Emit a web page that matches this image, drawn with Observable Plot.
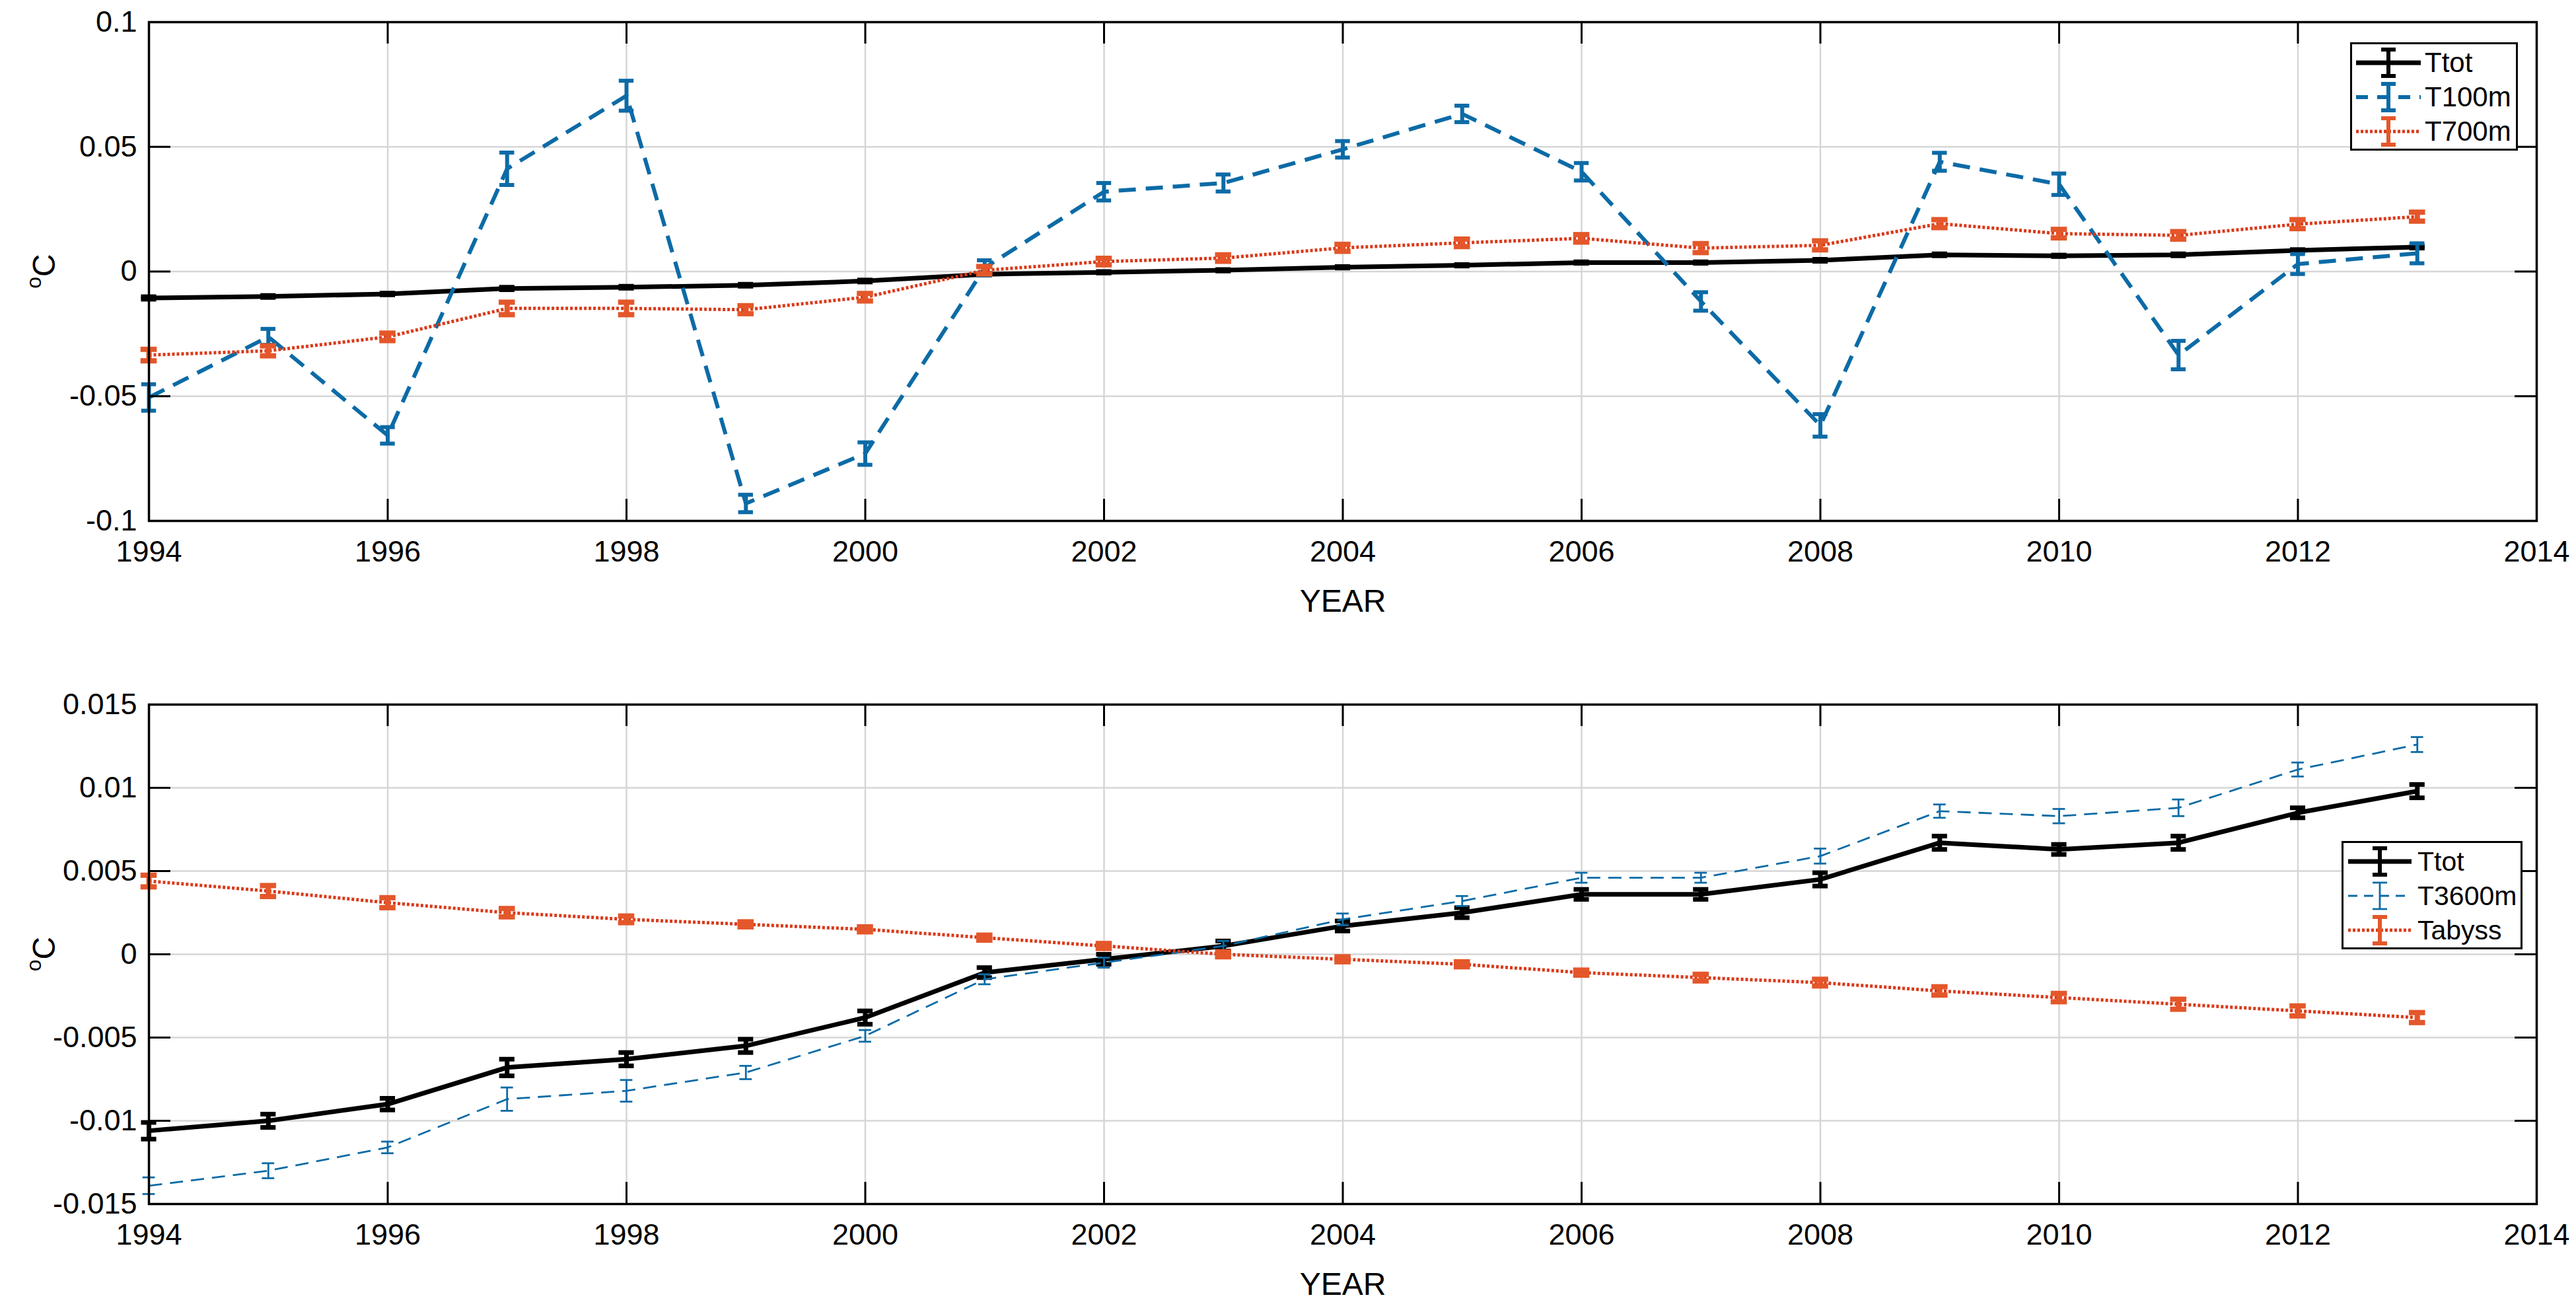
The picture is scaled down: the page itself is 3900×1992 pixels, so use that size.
<!DOCTYPE html>
<html>
<head>
<meta charset="utf-8">
<script src="https://cdn.jsdelivr.net/npm/d3@7"></script>
<script src="https://cdn.jsdelivr.net/npm/@observablehq/plot@0.6"></script>
<style>
  html, body { margin: 0; padding: 0; background: #fff; }
  #wrap { position: relative; width: 3900px; height: 1992px; overflow: hidden;
          font-family: "Liberation Sans", Arial, Helvetica, sans-serif; background: #fff; }
  .panel { position: absolute; left: 0; }
  .legend { position: absolute; background: #fff; border: 3px solid #000; box-sizing: border-box; }
  .legend .row { position: absolute; left: 0; right: 0; height: 52px; }
  .legend .row svg { position: absolute; top: 0; }
  .legend .row span { position: absolute; top: 0; line-height: 52px; color: #000; white-space: nowrap; }
</style>
</head>
<body>
<div id="wrap"></div>
<script>
// ---------------- data ----------------
const years = [1994, 1995, 1996, 1997, 1998, 1999, 2000, 2001, 2002, 2003,
               2004, 2005, 2006, 2007, 2008, 2009, 2010, 2011, 2012, 2013];

const ttot    = [-0.0106, -0.0100, -0.0090, -0.0068, -0.0063, -0.0055, -0.0038, -0.0011, -0.0003, 0.0005,
                  0.0017, 0.0025, 0.0036, 0.0036, 0.0045, 0.0067, 0.0063, 0.0067, 0.0085, 0.0098];
const ttotErr = [0.0005, 0.0004, 0.00035, 0.0005, 0.0004, 0.0004, 0.0004, 0.0003, 0.0003, 0.0003,
                 0.0003, 0.0003, 0.0003, 0.0003, 0.0004, 0.0004, 0.0003, 0.0004, 0.0003, 0.0004];

const t100m    = [-0.0505, -0.0262, -0.0657, 0.0412, 0.0705, -0.0930, -0.0730, 0.0015, 0.0320, 0.0355,
                   0.0490, 0.0632, 0.0400, -0.0120, -0.0617, 0.0440, 0.0350, -0.0335, 0.0030, 0.0073];
const t100mErr = [0.0053, 0.0032, 0.0033, 0.0065, 0.0060, 0.0035, 0.0045, 0.0030, 0.0035, 0.0034,
                  0.0033, 0.0033, 0.0035, 0.0037, 0.0045, 0.0036, 0.0043, 0.0057, 0.0040, 0.0040];

const t700m    = [-0.0335, -0.0318, -0.0262, -0.0148, -0.0148, -0.0153, -0.0103, 0.0005, 0.0040, 0.0054,
                   0.0095, 0.0115, 0.0133, 0.0094, 0.0105, 0.0192, 0.0152, 0.0145, 0.0190, 0.0220];
const t700mErr = [0.0023, 0.0020, 0.0015, 0.0025, 0.0025, 0.0016, 0.0015, 0.0015, 0.0013, 0.0013,
                  0.0014, 0.0015, 0.0015, 0.0018, 0.0018, 0.0016, 0.0017, 0.0015, 0.0018, 0.0018];

const t3600m    = [-0.0139, -0.0130, -0.0116, -0.0087, -0.0082, -0.0071, -0.0049, -0.0015, -0.0005, 0.0005,
                    0.0021, 0.0032, 0.0046, 0.0046, 0.0059, 0.0086, 0.0083, 0.0088, 0.0111, 0.0126];
const t3600mErr = [0.0005, 0.00045, 0.00035, 0.0007, 0.00065, 0.0004, 0.00035, 0.0003, 0.0003, 0.0003,
                   0.00035, 0.0003, 0.0003, 0.0003, 0.00045, 0.0004, 0.00043, 0.0005, 0.00042, 0.00045];

const tabyss    = [0.0044, 0.0038, 0.0031, 0.0025, 0.0021, 0.0018, 0.0015, 0.0010, 0.0005, 0.0000,
                   -0.0003, -0.0006, -0.0011, -0.0014, -0.0017, -0.0022, -0.0026, -0.0030, -0.0034, -0.0038];
const tabyssErr = [0.00035, 0.00033, 0.0003, 0.00025, 0.0002, 0.00015, 0.00015, 0.00015, 0.00015, 0.00015,
                   0.00015, 0.00015, 0.00015, 0.0002, 0.0002, 0.00025, 0.00025, 0.0003, 0.0003, 0.0003];

const xTicks = [1994, 1996, 1998, 2000, 2002, 2004, 2006, 2008, 2010, 2012, 2014];
const yTicksTop = [-0.1, -0.05, 0, 0.05, 0.1];
const yTicksBottom = [-0.015, -0.01, -0.005, 0, 0.005, 0.01, 0.015];
const xLabel = "YEAR";
const topNames = ["Ttot", "T100m", "T700m"];
const bottomNames = ["Ttot", "T3600m", "Tabyss"];

// ---------------- styles ----------------
const W = 3900, ML = 225, MR = 60;
const BLACK = "#000000", BLUE = "#0c6ba6", RED = "#d93a1a", ORANGE = "#e4572a";
const FONT = "'Liberation Sans', Arial, Helvetica, sans-serif";
const TICKLEN = 33;

const styleTot  = {color: BLACK, bar: BLACK, width: 7, barWidth: 7, dash: null, ldash: null, cap: 0.064};
const style100  = {color: BLUE, bar: BLUE, width: 6, barWidth: 6, dash: "26,15", ldash: "18,14", cap: 0.062};
const style700  = {color: RED, bar: ORANGE, width: 5, barWidth: 8, dash: "4,3", ldash: "4,3", cap: 0.068};
const style3600 = {color: BLUE, bar: BLUE, width: 2.8, barWidth: 2.8, dash: "20,12", ldash: "14,10", cap: 0.052};
const styleAbys = {color: RED, bar: ORANGE, width: 5, barWidth: 8, dash: "4,3", ldash: "4,3", cap: 0.068};

function rowsOf(vals, errs) {
  return years.map((year, i) => ({year, value: vals[i], lo: vals[i] - errs[i], hi: vals[i] + errs[i]}));
}

function seriesMarks(vals, errs, s) {
  const rows = rowsOf(vals, errs);
  const common = {stroke: s.bar, strokeWidth: s.barWidth, strokeLinecap: "butt"};
  return [
    Plot.line(rows, {x: "year", y: "value", stroke: s.color, strokeWidth: s.width,
                     strokeDasharray: s.dash, strokeLinecap: "butt", strokeLinejoin: "round"}),
    Plot.ruleX(rows, {x: "year", y1: "lo", y2: "hi", ...common}),
    Plot.ruleY(rows, {y: "lo", x1: d => d.year - s.cap, x2: d => d.year + s.cap, ...common}),
    Plot.ruleY(rows, {y: "hi", x1: d => d.year - s.cap, x2: d => d.year + s.cap, ...common})
  ];
}

function makePanel(cfg) {
  const innerH = cfg.height - cfg.marginTop - cfg.marginBottom;
  const innerW = W - ML - MR;
  const tickStyle = {stroke: BLACK, strokeWidth: 3};
  const marks = [
    Plot.gridX(xTicks, {stroke: "#d6d6d6", strokeOpacity: 1, strokeWidth: 2.5}),
    Plot.gridY(cfg.yTicks, {stroke: "#d6d6d6", strokeOpacity: 1, strokeWidth: 2.5}),
    ...cfg.series.flatMap(([v, e, s]) => seriesMarks(v, e, s)),
    Plot.ruleX(xTicks, {x: d => d, insetTop: innerH - TICKLEN, ...tickStyle}),
    Plot.ruleX(xTicks, {x: d => d, insetBottom: innerH - TICKLEN, ...tickStyle}),
    Plot.ruleY(cfg.yTicks, {y: d => d, insetRight: innerW - TICKLEN, ...tickStyle}),
    Plot.ruleY(cfg.yTicks, {y: d => d, insetLeft: innerW - TICKLEN, ...tickStyle}),
    Plot.frame({stroke: BLACK, strokeWidth: 3.5}),
    Plot.axisX(xTicks, {tickSize: 0, tickPadding: 30, tickFormat: d => String(d), label: null}),
    Plot.axisY(cfg.yTicks, {tickSize: 0, tickPadding: 18, tickFormat: d => String(d), label: null}),
    Plot.text([xLabel], {text: d => d, frameAnchor: "bottom", dy: 137, fontSize: 48})
  ];
  const fig = Plot.plot({
    width: W, height: cfg.height,
    marginLeft: ML, marginRight: MR, marginTop: cfg.marginTop, marginBottom: cfg.marginBottom,
    x: {domain: [1994, 2014]},
    y: {domain: cfg.yDomain},
    style: {fontFamily: FONT, fontSize: "45px", background: "#fff", color: "#000", overflow: "visible"},
    marks
  });
  const svg = d3.select(fig);
  const mid = cfg.marginTop + innerH / 2;
  const t = svg.append("text")
    .attr("transform", `translate(80,${mid}) rotate(-90)`)
    .attr("text-anchor", "middle")
    .attr("fill", "#000")
    .style("font-family", FONT);
  t.append("tspan").attr("font-size", 32).attr("dy", "-0.55em").text("o");
  t.append("tspan").attr("font-size", 48).attr("dy", "0.42em").text("C");
  return fig;
}

const wrap = document.getElementById("wrap");

const topFig = makePanel({
  height: 990, marginTop: 33, marginBottom: 202,
  yDomain: [-0.1, 0.1], yTicks: yTicksTop,
  series: [[ttot, ttotErr, styleTot], [t100m, t100mErr, style100], [t700m, t700mErr, style700]]
});
topFig.classList.add("panel"); topFig.style.top = "0px";
wrap.appendChild(topFig);

const bottomFig = makePanel({
  height: 1002, marginTop: 76, marginBottom: 170,
  yDomain: [-0.015, 0.015], yTicks: yTicksBottom,
  series: [[ttot, ttotErr, styleTot], [t3600m, t3600mErr, style3600], [tabyss, tabyssErr, styleAbys]]
});
bottomFig.classList.add("panel"); bottomFig.style.top = "990px";
wrap.appendChild(bottomFig);

// ---------------- legends ----------------
function glyph(s, w) {
  const mid = w / 2, c = 11;
  const dash = s.ldash ? `stroke-dasharray="${s.ldash}"` : "";
  return `<svg width="${w}" height="52" viewBox="0 0 ${w} 52">
    <line x1="0" y1="26" x2="${w}" y2="26" stroke="${s.color}" stroke-width="${s.width}" ${dash} stroke-linecap="butt"/>
    <line x1="${mid}" y1="6" x2="${mid}" y2="46" stroke="${s.bar}" stroke-width="${Math.min(s.barWidth, 6)}"/>
    <line x1="${mid - c}" y1="6" x2="${mid + c}" y2="6" stroke="${s.bar}" stroke-width="${Math.min(s.barWidth, 6)}"/>
    <line x1="${mid - c}" y1="46" x2="${mid + c}" y2="46" stroke="${s.bar}" stroke-width="${Math.min(s.barWidth, 6)}"/>
  </svg>`;
}
function legend(names, styles, box) {
  const div = document.createElement("div");
  div.className = "legend";
  Object.assign(div.style, {left: box.left + "px", top: box.top + "px", width: box.width + "px", height: box.height + "px"});
  div.innerHTML = names.map((n, i) => `<div class="row" style="top:${2 + 52 * i}px">
      <div style="position:absolute;left:${box.gx}px;top:0">${glyph(styles[i], box.gw)}</div>
      <span style="left:${box.tx}px;font-size:${box.fs}px">${n}</span></div>`).join("");
  wrap.appendChild(div);
}
legend(topNames, [styleTot, style100, style700], {left: 3558, top: 64, width: 254, height: 164, gx: 6, gw: 98, tx: 110, fs: 42});
legend(bottomNames, [styleTot, style3600, styleAbys], {left: 3545, top: 1273, width: 274, height: 164, gx: 7, gw: 96, tx: 112, fs: 41});
</script>
</body>
</html>
